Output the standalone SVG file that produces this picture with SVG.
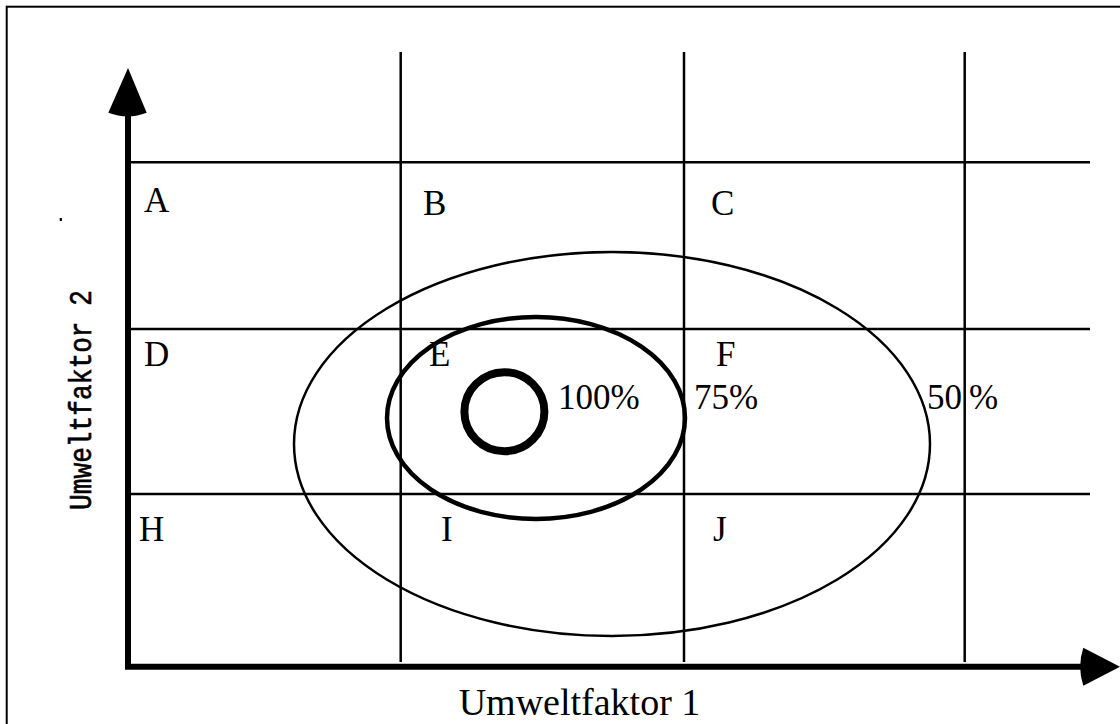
<svg xmlns="http://www.w3.org/2000/svg" width="1120" height="724" viewBox="0 0 1120 724">
<style>
.grid{stroke:#000;stroke-width:2.5;fill:none}
.lbl{font-family:"Liberation Serif","Times New Roman",serif;font-size:35px;fill:#000}
.ax{stroke:#000;fill:none}
</style>
<rect x="0" y="0" width="1120" height="724" fill="#fff"/>
<rect x="6.7" y="6.7" width="1130" height="730" fill="none" stroke="#000" stroke-width="2"/>
<g id="connectors">
<g id="grid">
<line class="grid" x1="128" y1="162.3" x2="1090" y2="162.3"/>
<line class="grid" x1="128" y1="329" x2="1090" y2="329"/>
<line class="grid" x1="128" y1="494" x2="1090" y2="494"/>
<line class="grid" x1="400.7" y1="52" x2="400.7" y2="662"/>
<line class="grid" x1="684" y1="52" x2="684" y2="662"/>
<line class="grid" x1="964.7" y1="52" x2="964.7" y2="662"/>
</g>
<g id="axes">
<polyline class="ax" stroke-width="6" points="128,112 128,666.7 1082,666.7" stroke-linejoin="miter"/>
<path d="M128,68 L108.3,112.7 Q128,120 146.7,112.7 Z" fill="#000"/>
<path d="M1120,666.7 L1083.3,647.7 Q1077,666.7 1083.3,685.7 Z" fill="#000"/>
</g>
</g>
<g id="ellipse50"><ellipse cx="612" cy="444" rx="318" ry="192" fill="none" stroke="#000" stroke-width="2.5"/></g>
<g id="ellipse75"><ellipse cx="536" cy="418" rx="149" ry="101" fill="none" stroke="#000" stroke-width="4.5"/></g>
<g id="ellipse100"><ellipse cx="504.4" cy="411.7" rx="40" ry="39.5" fill="none" stroke="#000" stroke-width="8"/></g>
<g id="cellA"><text class="lbl" x="144" y="211.7">A</text></g>
<g id="cellB"><text class="lbl" x="423" y="215">B</text></g>
<g id="cellC"><text class="lbl" x="711" y="215">C</text></g>
<g id="cellD"><text class="lbl" x="144" y="366">D</text></g>
<g id="cellE"><text class="lbl" x="429" y="366">E</text></g>
<g id="cellF"><text class="lbl" x="716" y="366">F</text></g>
<g id="cellH"><text class="lbl" x="139" y="540.7">H</text></g>
<g id="cellI"><text class="lbl" x="441" y="540.7">I</text></g>
<g id="cellJ"><text class="lbl" x="713" y="540.7">J</text></g>
<g id="pct"><text class="lbl" x="558" y="409.3">100%</text><text class="lbl" x="694" y="409">75%</text><text class="lbl" x="927" y="409">50</text><text class="lbl" x="969" y="409">%</text></g>
<g id="xlabel"><text class="lbl" x="579.5" y="714.5" text-anchor="middle" style="font-size:38px">Umweltfaktor 1</text></g>
<g id="ylabel"><text x="0" y="0" transform="translate(90.7,510) rotate(-90)" font-family="'Liberation Mono','Courier New',monospace" font-size="31" stroke="#000" stroke-width="0.6" textLength="220" lengthAdjust="spacingAndGlyphs">Umweltfaktor 2</text><rect x="59.7" y="218" width="2.2" height="3" fill="#000"/></g>
</svg>
